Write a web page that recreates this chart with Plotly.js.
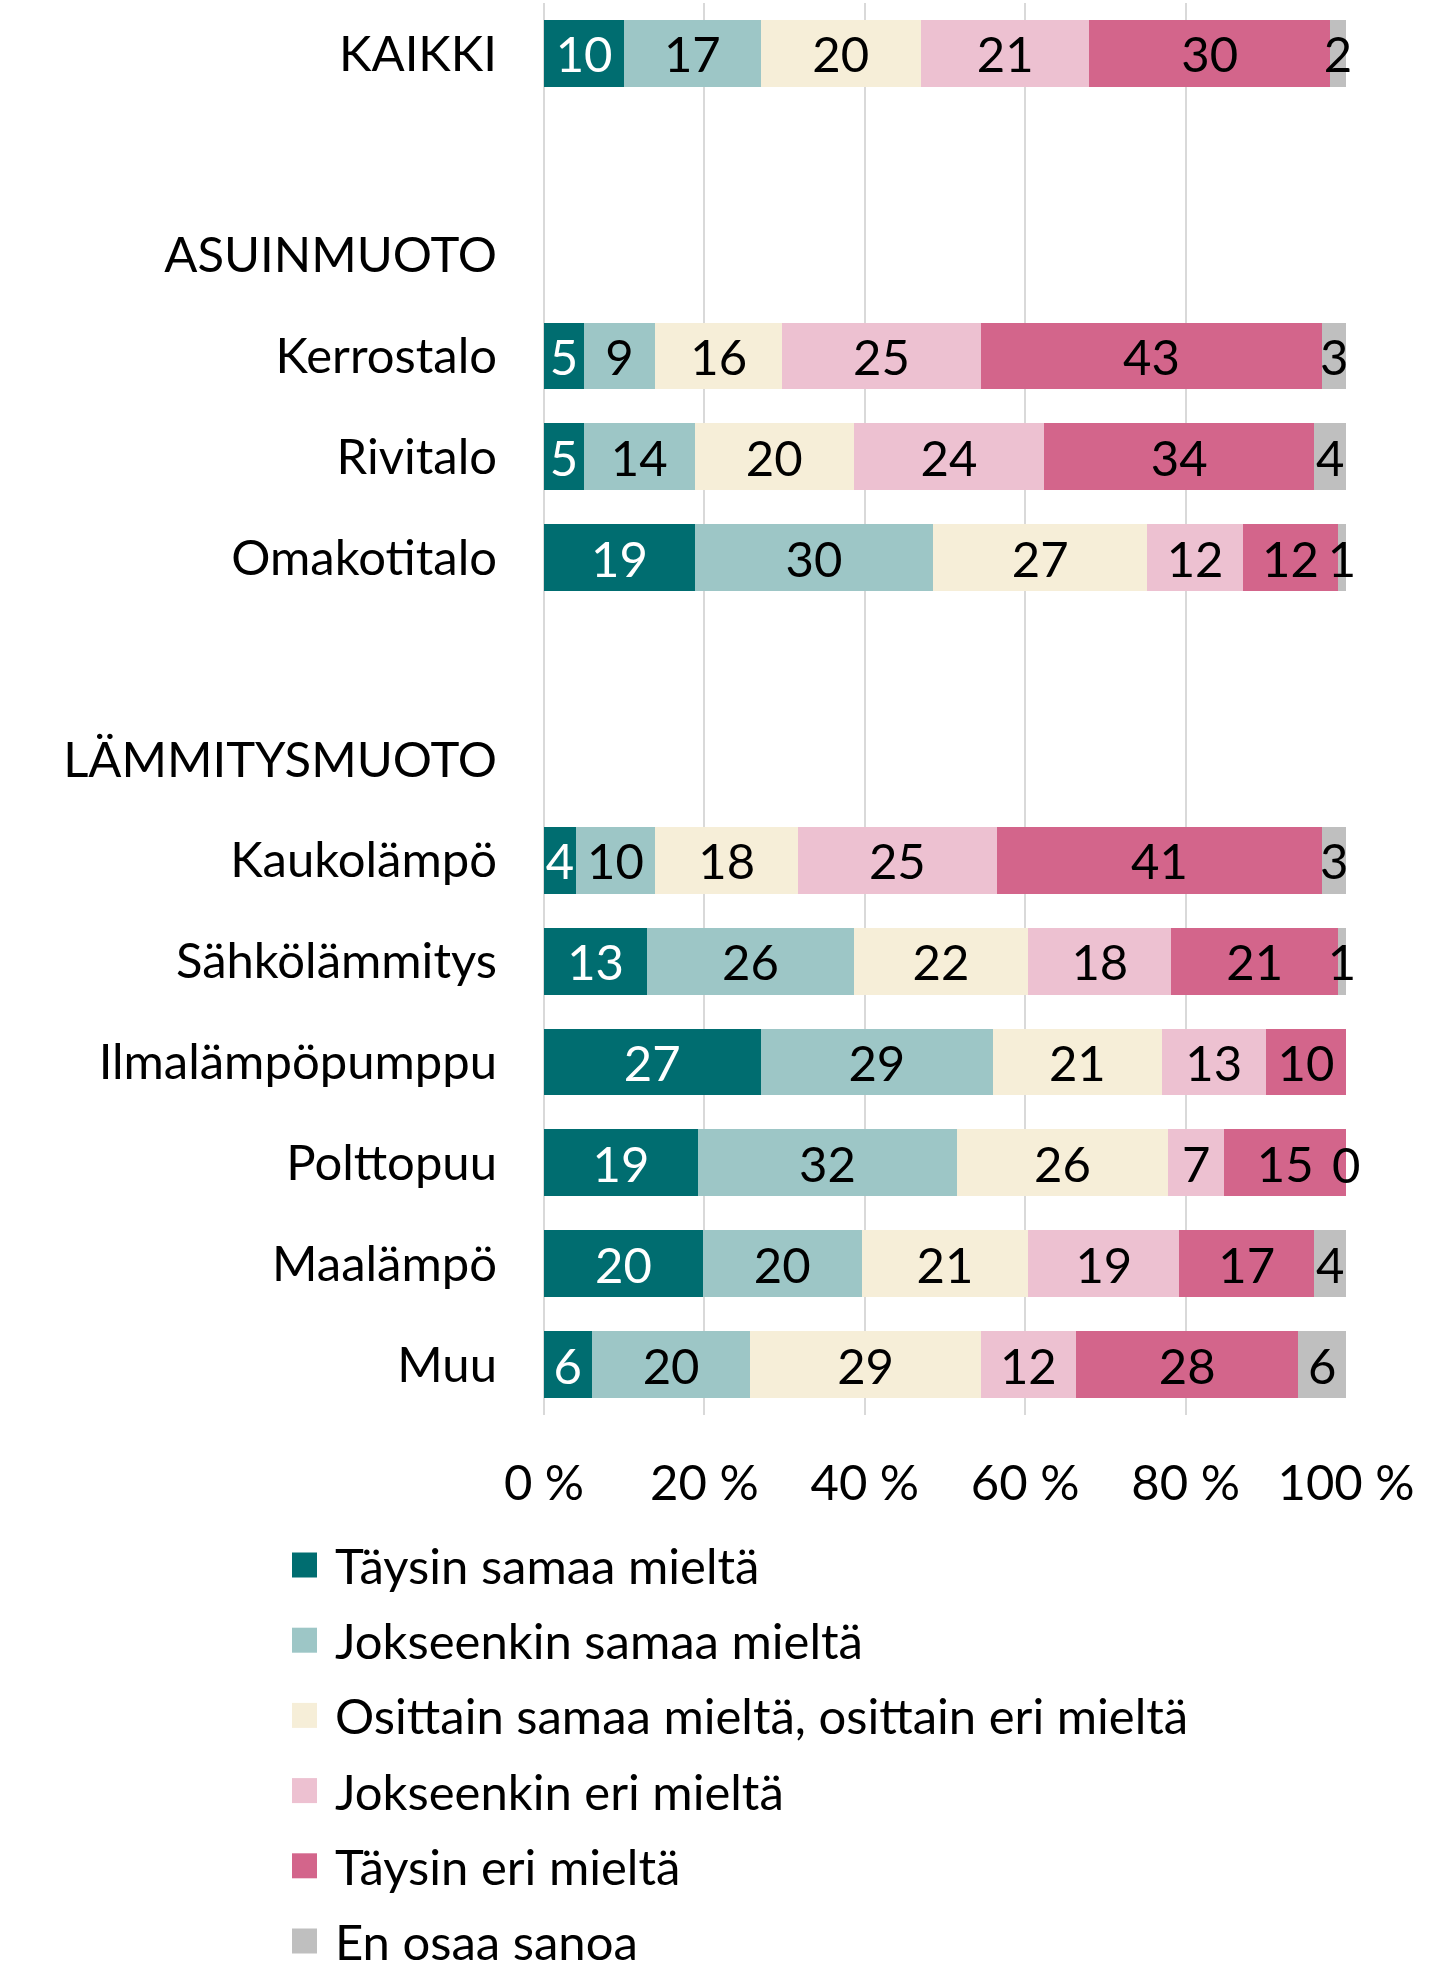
<!DOCTYPE html>
<html>
<head>
<meta charset="utf-8">
<script src="https://cdn.plot.ly/plotly-3.0.1.min.js"></script>
<style>
  html, body { margin: 0; padding: 0; background: #ffffff; }
  #chart { width: 1455px; height: 1973px; }
</style>
</head>
<body>
<div id="chart"></div>
<script>
// ---- data ----
const categories = ['KAIKKI', ' ', 'ASUINMUOTO', 'Kerrostalo', 'Rivitalo', 'Omakotitalo', '  ',
  'LÄMMITYSMUOTO', 'Kaukolämpö', 'Sähkölämmitys', 'Ilmalämpöpumppu', 'Polttopuu', 'Maalämpö', 'Muu'];

const seriesNames = ['Täysin samaa mieltä', 'Jokseenkin samaa mieltä',
  'Osittain samaa mieltä, osittain eri mieltä', 'Jokseenkin eri mieltä',
  'Täysin eri mieltä', 'En osaa sanoa'];

const taysinSamaa     = [10, null, null, 5, 5, 19, null, null, 4, 13, 27, 19, 20, 6];
const jokseenkinSamaa = [17, null, null, 9, 14, 30, null, null, 10, 26, 29, 32, 20, 20];
const osittain        = [20, null, null, 16, 20, 27, null, null, 18, 22, 21, 26, 21, 29];
const jokseenkinEri   = [21, null, null, 25, 24, 12, null, null, 25, 18, 13, 7, 19, 12];
const taysinEri       = [30, null, null, 43, 34, 12, null, null, 41, 21, 10, 15, 17, 28];
const enOsaa          = [2, null, null, 3, 4, 1, null, null, 3, 1, null, 0, 4, 6];

const xTickVals = [0, 20, 40, 60, 80, 100];
const xTickText = ['0 %', '20 %', '40 %', '60 %', '80 %', '100 %'];

// ---- styles ----
const colors = ['#006D70', '#9DC6C6', '#F6EED8', '#EDC1D1', '#D3658B', '#BFBFBF'];
const textColors = ['#ffffff', '#000000', '#000000', '#000000', '#000000', '#000000'];
const FONT = 'Lato, "Liberation Sans", Arial, sans-serif';
const FS = 49;

const W = 1455, H = 1973;
const M = { l: 544, r: 109, t: 3, b: 558 };
const plotW = W - M.l - M.r;
const plotH = H - M.t - M.b;

const seriesValues = [taysinSamaa, jokseenkinSamaa, osittain, jokseenkinEri, taysinEri, enOsaa];
const lastIdx = seriesValues.length - 1;

// zero-valued segments have no width; they are labelled separately below
const traces = seriesValues.map((vals, i) => ({
  type: 'bar',
  orientation: 'h',
  name: seriesNames[i],
  y: categories,
  x: vals.map(v => (v === 0 ? null : v)),
  text: vals.map(v => (v === null || v === 0 ? '' : String(v))),
  texttemplate: '%{text}',
  textposition: 'inside',
  insidetextanchor: 'middle',
  constraintext: 'none',
  cliponaxis: i !== lastIdx,
  textfont: { family: FONT, size: FS, color: textColors[i] },
  insidetextfont: { family: FONT, size: FS, color: textColors[i] },
  marker: { color: colors[i], line: { width: 0 } },
  hoverinfo: 'skip',
  showlegend: false
}));

const shapes = [];
const annotations = [];

// labels for zero-width segments: placed at the (normalised) end of the stack
categories.forEach((c, r) => {
  seriesValues.forEach((vals, i) => {
    if (vals[r] === 0) {
      const total = seriesValues.reduce((s, v) => s + (v[r] || 0), 0);
      const cum = seriesValues.slice(0, i + 1).reduce((s, v) => s + (v[r] || 0), 0);
      annotations.push({
        xref: 'x', yref: 'y',
        x: Math.min(100, cum / total * 100), y: c,
        xanchor: 'center', yanchor: 'middle', yshift: -1,
        text: String(vals[r]), showarrow: false,
        font: { family: FONT, size: FS, color: '#000000' }
      });
    }
  });
});

// custom legend (paper coordinates computed from pixel layout)
const toPX = px => (px - M.l) / plotW;
const toPY = py => (M.t + plotH - py) / plotH;
const legendStartY = 1565, legendStep = 75.2, swatch = 25, swatchLeft = 292, textLeft = 333;

seriesNames.forEach((name, i) => {
  const cy = legendStartY + i * legendStep;
  shapes.push({
    type: 'rect', xref: 'paper', yref: 'paper',
    x0: toPX(swatchLeft), x1: toPX(swatchLeft + swatch),
    y0: toPY(cy + swatch / 2), y1: toPY(cy - swatch / 2),
    fillcolor: colors[i], line: { width: 0 }
  });
  annotations.push({
    xref: 'paper', yref: 'paper',
    x: toPX(textLeft), y: toPY(cy),
    xanchor: 'left', yanchor: 'middle',
    text: name, showarrow: false,
    font: { family: FONT, size: FS, color: '#000000' }
  });
});

const layout = {
  width: W, height: H,
  margin: M,
  paper_bgcolor: '#ffffff',
  plot_bgcolor: '#ffffff',
  barmode: 'stack',
  barnorm: 'percent',
  bargap: 0.336,
  showlegend: false,
  font: { family: FONT, size: FS, color: '#000000' },
  xaxis: {
    range: [0, 100.0001],
    tickmode: 'array',
    tickvals: xTickVals,
    ticktext: xTickText,
    showgrid: true,
    gridcolor: '#D9D9D9',
    gridwidth: 2,
    zeroline: true,
    zerolinecolor: '#D9D9D9',
    zerolinewidth: 2,
    showline: false,
    ticks: '',
    ticklabelstandoff: 35,
    tickfont: { family: FONT, size: FS, color: '#000000' },
    automargin: false,
    fixedrange: true
  },
  yaxis: {
    type: 'category',
    categoryorder: 'array',
    categoryarray: categories,
    autorange: false,
    range: [categories.length - 0.5, -0.5],
    showgrid: false,
    zeroline: false,
    showline: false,
    ticks: '',
    ticklabelstandoff: 46,
    tickfont: { family: FONT, size: FS, color: '#000000' },
    automargin: false,
    fixedrange: true
  },
  shapes: shapes,
  annotations: annotations
};

Plotly.newPlot('chart', traces, layout, { displayModeBar: false, staticPlot: true });
</script>
</body>
</html>
